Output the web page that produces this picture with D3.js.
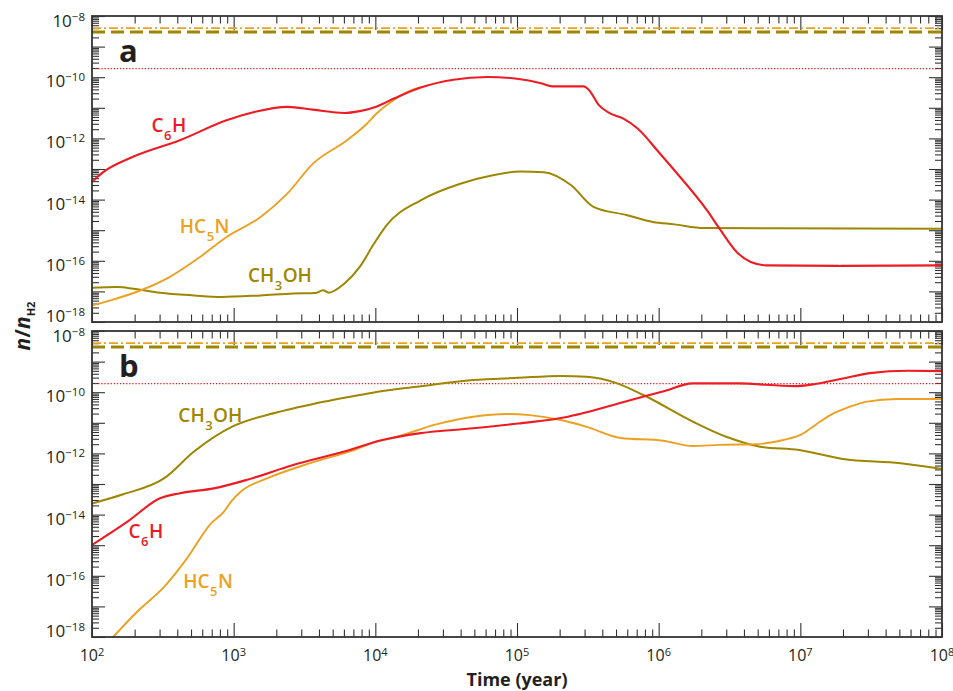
<!DOCTYPE html>
<html>
<head>
<meta charset="utf-8">
<script src="https://d3js.org/d3.v7.min.js"></script>
<style>
  body { margin: 0; background: #fff; }
  svg { display: block; font-family: 'Open Sans', sans-serif; }
</style>
</head>
<body>
<svg id="chart" width="953" height="691"></svg>
<script>
// abundances n/nH2 vs time (year) as [time, value]
// panel a
var c6hA = [[100,3.8e-14],[120,7.9e-14],[195,2.5e-13],[417,8.7e-13],[891,3.9e-12],[1380,7.2e-12],
  [2400,1.07e-11],[3630,8.7e-12],[6030,6.8e-12],[7760,7.8e-12],[9770,1.02e-11],[13500,2.0e-11],
  [20900,4.6e-11],[35500,8.3e-11],[61700,1.02e-10],[1.0e5,8.9e-11],[1.45e5,6.5e-11],[1.82e5,5.0e-11],
  [2.95e5,5.0e-11],[3.24e5,3.7e-11],[3.8e5,1.2e-11],[4.47e5,6.8e-12],[5.6e5,4.5e-12],[7.1e5,2.1e-12],
  [1.02e6,3.2e-13],[1.29e6,9.1e-14],[2.19e6,4.5e-15],[2.69e6,1.12e-15],[3.55e6,1.95e-16],
  [4.47e6,9.1e-17],[5.75e6,7.1e-17],[1.9e7,6.8e-17],[1e8,7.1e-17]];
var hc5nA = [[100,3.5e-18],[135,5.1e-18],[219,1.07e-17],[355,3.0e-17],[575,1.3e-16],[891,6.0e-16],
  [1550,2.7e-15],[2400,1.6e-14],[3630,1.5e-13],[6310,8.7e-13],[8710,3.0e-12],[10200,6.5e-12],
  [13500,1.8e-11],[19500,4.3e-11],[20900,4.6e-11]];
var ch3ohA = [[100,1.32e-17],[151,1.38e-17],[195,1.23e-17],[302,9.1e-18],[525,7.4e-18],[813,6.6e-18],
  [1550,7.4e-18],[2630,8.5e-18],[3800,8.9e-18],[4270,1.1e-17],[4680,9.1e-18],[6030,1.78e-17],
  [7760,6.3e-17],[9770,3.6e-16],[12000,1.45e-15],[20900,9.5e-15],[39800,3.3e-14],[67600,6.2e-14],
  [1.05e5,8.3e-14],[1.55e5,7.9e-14],[2.4e5,3.0e-14],[3.47e5,5.8e-15],[6.0e5,3.1e-15],[9.1e5,1.86e-15],
  [1.29e6,1.55e-15],[2.1e6,1.17e-15],[6.5e6,1.15e-15],[1e8,1.12e-15]];
// panel b
var c6hB = [[100,1.02e-15],[178,5.9e-15],[302,3.4e-14],[417,5.0e-14],[724,7.2e-14],[1230,1.35e-13],
  [2630,4.2e-13],[6030,1.15e-12],[10700,2.6e-12],[20900,4.6e-12],[49000,6.6e-12],[1.02e5,9.5e-12],
  [2.29e5,1.58e-11],[3.1e5,2.2e-11],[5.75e5,4.9e-11],[1.07e6,1.05e-10],[1.74e6,1.95e-10],
  [3.6e6,1.95e-10],[9.1e6,1.58e-10],[1.23e7,1.8e-10],[2.0e7,2.8e-10],[3.1e7,4.2e-10],
  [5.75e7,5.0e-10],[1e8,4.9e-10]];
var hc5nB = [[141,1.0e-18],[209,6.8e-18],[324,4.4e-17],[468,3.7e-16],[692,5.2e-15],[851,1.23e-14],
  [955,2.6e-14],[1120,5.6e-14],[1740,1.55e-13],[3470,4.8e-13],[7080,1.29e-12],[10700,2.6e-12],
  [12900,3.1e-12],[26900,8.9e-12],[49000,1.58e-11],[85100,1.95e-11],[1.23e5,1.78e-11],
  [2.04e5,1.23e-11],[3.1e5,7.4e-12],[5.4e5,3.2e-12],[1.07e6,2.6e-12],[1.74e6,1.74e-12],
  [2.7e6,1.9e-12],[4.9e6,2.0e-12],[7.6e6,2.75e-12],[1.02e7,4.2e-12],[1.32e7,9.5e-12],
  [1.7e7,2.0e-11],[2.0e7,2.75e-11],[2.95e7,4.9e-11],[4.8e7,6.0e-11],[1e8,6.0e-11]];
var ch3ohB = [[100,2.3e-14],[166,4.6e-14],[324,1.55e-13],[525,1.15e-12],[1000,7.9e-12],[2040,2.2e-11],
  [4570,5.1e-11],[7760,8.1e-11],[10700,1.05e-10],[19500,1.5e-10],[49000,2.5e-10],[1.02e5,2.95e-10],
  [2.04e5,3.4e-10],[3.1e5,3.2e-10],[5.1e5,1.95e-10],[7.8e5,8.1e-11],[1.74e6,1.1e-11],[3.0e6,3.5e-12],
  [5.2e6,1.66e-12],[9.8e6,1.29e-12],[2.0e7,6.6e-13],[5.1e7,4.8e-13],[1e8,3.1e-13]];

// observed abundances (horizontal reference lines)
var obsHC5N = 4.0e-9, obsCH3OH = 3.0e-9, obsC6H = 1.9e-10;

var xTickLabels = [1e2, 1e3, 1e4, 1e5, 1e6, 1e7, 1e8];
var yTickLabels = [1e-8, 1e-10, 1e-12, 1e-14, 1e-16, 1e-18];

var RED = '#ed1c24', ORANGE = '#eca122', OLIVE = '#9e8600', AXIS = '#333';

var svg = d3.select('#chart');
var left = 92, right = 942;
var x = d3.scaleLog().domain([1e2, 1e8]).range([left, right]);

var panels = [
  { top: 16, bottom: 322, letter: 'a',
    series: [[ch3ohA, OLIVE, 2], [hc5nA, ORANGE, 1.9], [c6hA, RED, 2.1]],
    labels: [['C6H', 263, 1.6e-12, RED], ['HC5N', 417, 8e-16, ORANGE], ['CH3OH', 1260, 2e-17, OLIVE]] },
  { top: 331, bottom: 637, letter: 'b',
    series: [[ch3ohB, OLIVE, 2], [hc5nB, ORANGE, 1.9], [c6hB, RED, 2.1]],
    labels: [['CH3OH', 407, 1.1e-11, OLIVE], ['C6H', 181, 1.74e-15, RED], ['HC5N', 440, 4e-17, ORANGE]] }
];

function decadeTicks(lo, hi) {
  var major = [], minor = [];
  for (var e = lo; e <= hi; e++) {
    major.push(Math.pow(10, e));
    if (e < hi) for (var k = 2; k <= 9; k++) minor.push(k * Math.pow(10, e));
  }
  return { major: major, minor: minor };
}
var xt = decadeTicks(2, 8), yt = decadeTicks(-18, -8);

function styleAxis(sel) {
  sel.select('.domain').remove();
  sel.attr('color', AXIS).selectAll('line').attr('stroke-width', 1.1);
}

panels.forEach(function(p, pi) {
  var y = d3.scaleLog().domain([1e-18, 1e-8]).range([p.bottom, p.top]);
  var g = svg.append('g');

  var clipId = 'clip' + pi;
  g.append('clipPath').attr('id', clipId).append('rect')
    .attr('x', left).attr('y', p.top).attr('width', right - left).attr('height', p.bottom - p.top);

  // ticks, all pointing inward
  [[xt.major, 14], [xt.minor, 7.5]].forEach(function(t) {
    g.append('g').attr('transform', 'translate(0,' + p.bottom + ')')
      .call(d3.axisBottom(x).tickValues(t[0]).tickSize(-t[1]).tickFormat('')).call(styleAxis);
    g.append('g').attr('transform', 'translate(0,' + p.top + ')')
      .call(d3.axisTop(x).tickValues(t[0]).tickSize(-t[1]).tickFormat('')).call(styleAxis);
  });
  [[yt.major, 13], [yt.minor, 7]].forEach(function(t) {
    g.append('g').attr('transform', 'translate(' + left + ',0)')
      .call(d3.axisLeft(y).tickValues(t[0]).tickSize(-t[1]).tickFormat('')).call(styleAxis);
    g.append('g').attr('transform', 'translate(' + right + ',0)')
      .call(d3.axisRight(y).tickValues(t[0]).tickSize(-t[1]).tickFormat('')).call(styleAxis);
  });

  // y tick labels (the bottom one is lifted to stay inside the panel)
  yTickLabels.forEach(function(v, i) {
    var e = Math.round(Math.log10(v));
    var last = i === yTickLabels.length - 1;
    var t = g.append('text').attr('x', left - 7).attr('y', y(v) + (last ? 0 : (i === 0 ? 11 : 10)))
      .attr('text-anchor', 'end').attr('fill', '#231f20').attr('font-size', 17);
    t.append('tspan').text('10');
    t.append('tspan').attr('dy', -6).attr('font-size', 11.5).text('\u2212' + Math.abs(e));
  });

  // observed reference lines
  var refs = g.append('g').attr('clip-path', 'url(#' + clipId + ')');
  refs.append('line').attr('x1', left).attr('x2', right).attr('y1', y(obsCH3OH)).attr('y2', y(obsCH3OH))
    .attr('stroke', OLIVE).attr('stroke-width', 3).attr('stroke-dasharray', '13,6');
  refs.append('line').attr('x1', left).attr('x2', right).attr('y1', y(obsHC5N)).attr('y2', y(obsHC5N))
    .attr('stroke', ORANGE).attr('stroke-width', 1.8).attr('stroke-dasharray', '9,3,2,3');
  refs.append('line').attr('x1', left).attr('x2', right).attr('y1', y(obsC6H)).attr('y2', y(obsC6H))
    .attr('stroke', RED).attr('stroke-width', 1.4).attr('stroke-dasharray', '1.3,1.8');

  // model curves
  var line = d3.line().x(function(d) { return x(d[0]); }).y(function(d) { return y(d[1]); })
    .curve(d3.curveMonotoneX);
  var curves = g.append('g').attr('clip-path', 'url(#' + clipId + ')');
  p.series.forEach(function(s) {
    curves.append('path').attr('d', line(s[0])).attr('fill', 'none')
      .attr('stroke', s[1]).attr('stroke-width', s[2]).attr('stroke-linejoin', 'round');
  });

  // species labels (digits are subscripts)
  p.labels.forEach(function(l) {
    var t = g.append('text').attr('x', x(l[1])).attr('y', y(l[2]))
      .attr('fill', l[3]).attr('font-size', 19).attr('font-weight', 600);
    var wasSub = false;
    l[0].split(/(\d)/).filter(function(s) { return s.length; }).forEach(function(part) {
      var sub = /\d/.test(part);
      var ts = t.append('tspan').text(part);
      if (sub) ts.attr('dy', 8).attr('font-size', 13).attr('dx', 0.5);
      else if (wasSub) ts.attr('dy', -8).attr('dx', 0.5);
      wasSub = sub;
    });
  });

  // panel letter
  g.append('text').attr('x', left + 27).attr('y', p.top + 46)
    .attr('font-size', 31).attr('font-weight', 700).attr('fill', '#231f20').text(p.letter);

  // frame
  g.append('rect').attr('x', left).attr('y', p.top).attr('width', right - left).attr('height', p.bottom - p.top)
    .attr('fill', 'none').attr('stroke', AXIS).attr('stroke-width', 1.8);

  // x tick labels on the lower panel only
  if (pi === 1) {
    xTickLabels.forEach(function(v) {
      var e = Math.round(Math.log10(v));
      var t = g.append('text').attr('x', x(v)).attr('y', p.bottom + 24)
        .attr('text-anchor', 'middle').attr('fill', '#231f20').attr('font-size', 16);
      t.append('tspan').text('10');
      t.append('tspan').attr('dy', -5).attr('font-size', 11).text(e);
    });
  }
});

// axis titles
svg.append('text').attr('x', (left + right) / 2).attr('y', 686).attr('text-anchor', 'middle')
  .attr('font-size', 18).attr('font-weight', 700).attr('fill', '#231f20').text('Time (year)');

var yt2 = svg.append('text').attr('transform', 'translate(30,326) rotate(-90)')
  .attr('text-anchor', 'middle').attr('font-size', 21).attr('font-weight', 700).attr('fill', '#231f20');
yt2.append('tspan').attr('font-style', 'italic').text('n');
yt2.append('tspan').text('/');
yt2.append('tspan').attr('font-style', 'italic').text('n');
yt2.append('tspan').attr('dy', 5).attr('font-size', 11).text('H2');
</script>
</body>
</html>
